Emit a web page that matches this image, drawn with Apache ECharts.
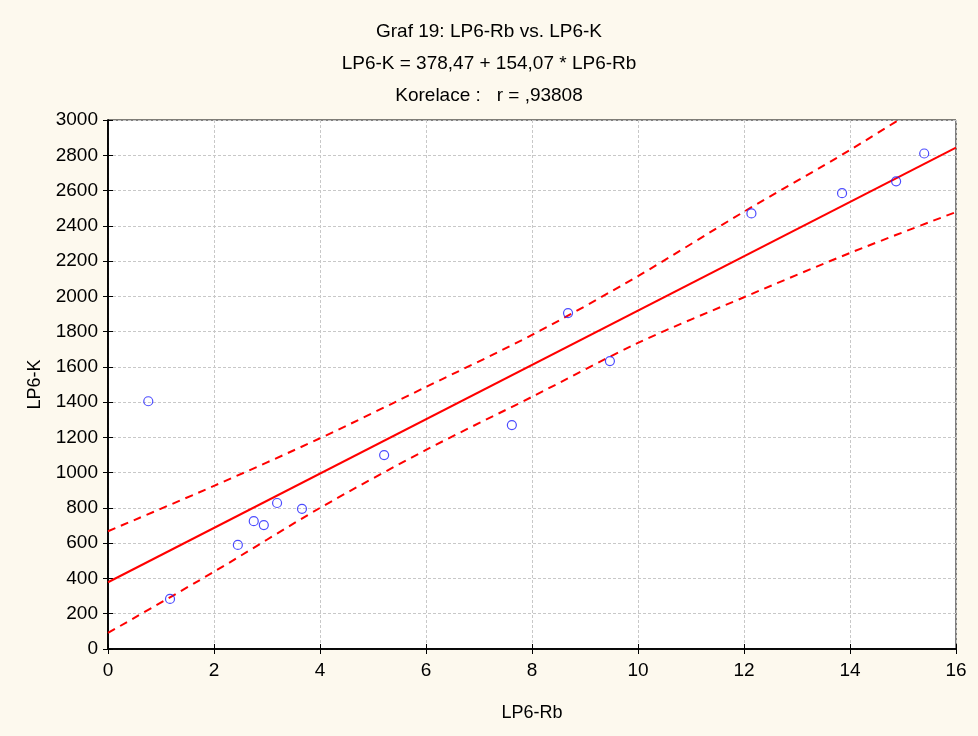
<!DOCTYPE html>
<html><head><meta charset="utf-8">
<script src="https://cdn.jsdelivr.net/npm/echarts@6/dist/echarts.min.js"></script>
<style>html,body{margin:0;padding:0;background:#FDF9EE;}#c{width:978px;height:736px;}</style>
</head><body><div id="c"></div>
<script>
const rb = [0.76, 1.17, 2.45, 2.75, 2.94, 3.19, 3.66, 5.21, 7.62, 8.68, 9.47, 12.14, 13.85, 14.87, 15.40];
const k  = [1405, 284, 590, 725, 703, 828, 795, 1100, 1270, 1905, 1633, 2470, 2585, 2652, 2810];
const fitX = [0, 16];
const fitY = [378.47, 378.47 + 154.07 * 16];
const bandX = [0, 2, 4, 6, 8, 10, 12, 14, 16];
const upper = [668, 925, 1195, 1486, 1781, 2115, 2480, 2830, 3205];
const lower = [91, 438, 800, 1129, 1430, 1736, 1995, 2246, 2478];
const xTicks = [0, 2, 4, 6, 8, 10, 12, 14, 16];
const yTicks = [0, 200, 400, 600, 800, 1000, 1200, 1400, 1600, 1800, 2000, 2200, 2400, 2600, 2800, 3000];

const zip = (a, b) => a.map((v, i) => [v, b[i]]);
const font = 'Liberation Sans, Arial, sans-serif';
const xMin = xTicks[0], xMax = xTicks[xTicks.length - 1];
const yMin = yTicks[0], yMax = yTicks[yTicks.length - 1];
const chart = echarts.init(document.getElementById('c'));
const lineStyleAxis = {color: '#000', width: 1.5};
chart.setOption({
  backgroundColor: '#FDF9EE',
  animation: false,
  title: {
    text: 'Graf 19: LP6-Rb vs. LP6-K\nLP6-K = 378,47 + 154,07 * LP6-Rb\nKorelace :   r = ,93808',
    left: 'center', top: 11,
    textStyle: {fontFamily: font, fontSize: 19, fontWeight: 'normal', color: '#000', lineHeight: 32}
  },
  grid: {left: 108, right: 22, top: 120, bottom: 87, show: true, backgroundColor: '#ffffff', borderColor: '#000', borderWidth: 1},
  xAxis: [{
    type: 'value', min: xMin, max: xMax, interval: 2,
    name: 'LP6-Rb', nameLocation: 'middle', nameGap: 55,
    nameTextStyle: {fontFamily: font, fontSize: 18, color: '#000'},
    axisLine: {show: true, lineStyle: lineStyleAxis},
    axisTick: {show: true, inside: true, length: 5, lineStyle: {color: '#000'}},
    axisLabel: {fontFamily: font, fontSize: 19, color: '#000', margin: 12},
    splitLine: {show: true, lineStyle: {color: '#c8c8c8', type: [3, 2]}}
  }, {
    type: 'value', position: 'top', min: xMin, max: xMax, interval: 2,
    axisLine: {show: true, lineStyle: lineStyleAxis},
    axisTick: {show: true, inside: true, length: 5, lineStyle: {color: '#000'}},
    axisLabel: {show: false}, splitLine: {show: false}
  }],
  yAxis: [{
    type: 'value', min: yMin, max: yMax, interval: 200,
    name: 'LP6-K', nameLocation: 'middle', nameGap: 64, nameRotate: 90,
    nameTextStyle: {fontFamily: font, fontSize: 18, color: '#000'},
    axisLine: {show: true, lineStyle: lineStyleAxis},
    axisTick: {show: true, inside: true, length: 5, lineStyle: {color: '#000'}},
    axisLabel: {fontFamily: font, fontSize: 19, color: '#000', margin: 10, formatter: v => String(v)},
    splitLine: {show: true, lineStyle: {color: '#c8c8c8', type: [3, 2]}}
  }, {
    type: 'value', position: 'right', min: yMin, max: yMax, interval: 200,
    axisLine: {show: true, lineStyle: lineStyleAxis},
    axisTick: {show: true, inside: true, length: 5, lineStyle: {color: '#000'}},
    axisLabel: {show: false}, splitLine: {show: false}
  }],
  series: [
    {type: 'line', data: zip(fitX, fitY), showSymbol: false, clip: true, z: 3,
     lineStyle: {color: '#ff0000', width: 2}},
    {type: 'line', data: zip(bandX, upper), showSymbol: false, smooth: 0.3, clip: true, z: 3,
     lineStyle: {color: '#ff0000', width: 2, type: [8, 6]}},
    {type: 'line', data: zip(bandX, lower), showSymbol: false, smooth: 0.3, clip: true, z: 3,
     lineStyle: {color: '#ff0000', width: 2, type: [8, 6]}},
    {type: 'scatter', data: zip(rb, k), symbol: 'circle', symbolSize: 9,
     itemStyle: {color: 'rgba(0,0,0,0)', borderColor: '#1f1fff', borderWidth: 1.2}, z: 5}
  ]
});
</script></body></html>
